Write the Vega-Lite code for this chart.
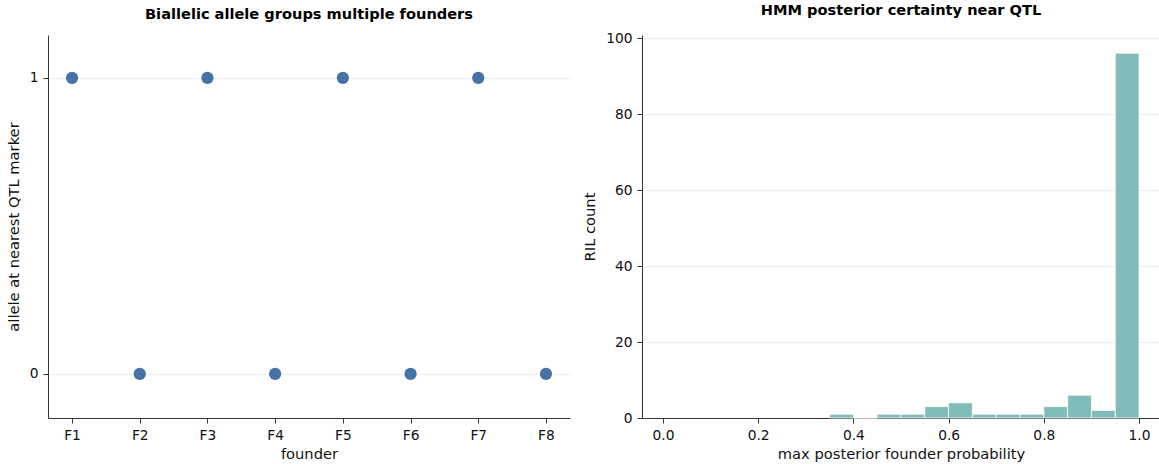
{
  "$schema": "https://vega.github.io/schema/vega-lite/v6.json",
  "padding": {"left": 6, "top": 3, "right": 0, "bottom": 0},
  "spacing": 12,
  "config": {
    "font": "DejaVu Sans",
    "view": {"stroke": null},
    "axis": {
      "domainColor": "#333333",
      "tickColor": "#333333",
      "labelColor": "#111111",
      "titleColor": "#111111",
      "labelFontSize": 13.8,
      "titleFontSize": 14.7,
      "titleFontWeight": "normal",
      "tickSize": 5,
      "labelPadding": 5,
      "gridColor": "#eeeeee",
      "gridWidth": 1
    },
    "title": {"fontSize": 14.6, "fontWeight": "bold", "color": "#000000", "offset": 13}
  },
  "datasets": {
    "founders": [
      {"founder": "F1", "allele": 1},
      {"founder": "F2", "allele": 0},
      {"founder": "F3", "allele": 1},
      {"founder": "F4", "allele": 0},
      {"founder": "F5", "allele": 1},
      {"founder": "F6", "allele": 0},
      {"founder": "F7", "allele": 1},
      {"founder": "F8", "allele": 0}
    ],
    "hist": [
      {"bin_start": 0.35, "bin_end": 0.40, "count": 1},
      {"bin_start": 0.40, "bin_end": 0.45, "count": 0},
      {"bin_start": 0.45, "bin_end": 0.50, "count": 1},
      {"bin_start": 0.50, "bin_end": 0.55, "count": 1},
      {"bin_start": 0.55, "bin_end": 0.60, "count": 3},
      {"bin_start": 0.60, "bin_end": 0.65, "count": 4},
      {"bin_start": 0.65, "bin_end": 0.70, "count": 1},
      {"bin_start": 0.70, "bin_end": 0.75, "count": 1},
      {"bin_start": 0.75, "bin_end": 0.80, "count": 1},
      {"bin_start": 0.80, "bin_end": 0.85, "count": 3},
      {"bin_start": 0.85, "bin_end": 0.90, "count": 6},
      {"bin_start": 0.90, "bin_end": 0.95, "count": 2},
      {"bin_start": 0.95, "bin_end": 1.00, "count": 96}
    ]
  },
  "hconcat": [
    {
      "title": "Biallelic allele groups multiple founders",
      "width": 522,
      "height": 383,
      "data": {"name": "founders"},
      "mark": {"type": "circle", "size": 150, "opacity": 1, "color": "#4672a6"},
      "encoding": {
        "x": {
          "field": "founder",
          "type": "nominal",
          "scale": {"type": "point", "padding": 0.355},
          "axis": {"title": "founder", "labelAngle": 0, "grid": false, "titlePadding": 5}
        },
        "y": {
          "field": "allele",
          "type": "quantitative",
          "scale": {"domain": [-0.149, 1.145], "nice": false, "zero": false},
          "axis": {"title": "allele at nearest QTL marker", "values": [0, 1], "format": "d", "grid": true, "titlePadding": 8}
        }
      }
    },
    {
      "title": "HMM posterior certainty near QTL",
      "width": 518,
      "height": 383,
      "data": {"name": "hist"},
      "mark": {"type": "bar", "color": "#80bdb8", "stroke": "#ffffff", "strokeWidth": 0.8},
      "encoding": {
        "x": {
          "field": "bin_start",
          "type": "quantitative",
          "scale": {"domain": [-0.044, 1.044], "nice": false, "zero": false},
          "axis": {"title": "max posterior founder probability", "values": [0, 0.2, 0.4, 0.6, 0.8, 1.0], "format": ".1f", "grid": false, "titlePadding": 5}
        },
        "x2": {"field": "bin_end"},
        "y": {
          "field": "count",
          "type": "quantitative",
          "scale": {"domain": [0, 100.8], "nice": false},
          "axis": {"title": "RIL count", "values": [0, 20, 40, 60, 80, 100], "grid": true, "titlePadding": 8}
        },
        "y2": {"datum": 0}
      }
    }
  ]
}
